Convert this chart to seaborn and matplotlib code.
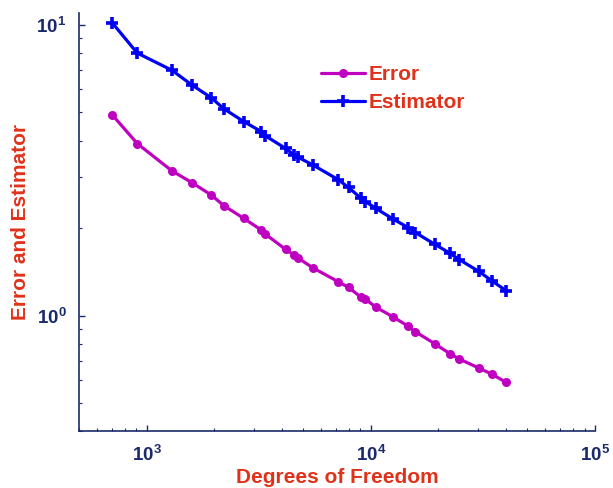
import numpy as np
import pandas as pd
import matplotlib
matplotlib.use('Agg')
import matplotlib.pyplot as plt
from matplotlib.ticker import LogLocator, FuncFormatter, NullFormatter
import seaborn as sns

# dados
dof = [703, 909, 1297, 1593, 1944, 2213, 2718, 3251, 3381, 4174, 4529, 4732,
       5520, 7145, 7960, 9020, 9467, 10527, 12577, 14675, 15832, 19313,
       22530, 24786, 30340, 34580, 40060]
error = [4.91, 3.91, 3.15, 2.87, 2.60, 2.39, 2.16, 1.97, 1.91, 1.69, 1.62, 1.58,
         1.46, 1.31, 1.25, 1.16, 1.14, 1.07, 0.99, 0.92, 0.88, 0.80,
         0.74, 0.71, 0.66, 0.63, 0.59]
estimator = [10.18, 8.01, 6.99, 6.22, 5.62, 5.15, 4.65, 4.30, 4.16, 3.76, 3.58, 3.51,
             3.30, 2.94, 2.76, 2.54, 2.47, 2.34, 2.15, 2.01, 1.93, 1.76,
             1.64, 1.56, 1.42, 1.32, 1.22]

navy = '#1b2a6b'
red = '#e0321a'
magenta = '#c000c0'
blue = '#0000f5'

sns.set_style('white')
plt.rcParams['font.family'] = ['Liberation Sans', 'DejaVu Sans']
plt.rcParams['mathtext.fontset'] = 'custom'
plt.rcParams['mathtext.bf'] = 'Liberation Sans:bold'
plt.rcParams['mathtext.rm'] = 'Liberation Sans:bold'

df = pd.DataFrame({'dof': dof, 'Error': error, 'Estimator': estimator})

fig = plt.figure(figsize=(6.13, 4.88), dpi=100)
ax = fig.add_axes([0.1289, 0.1162, 0.8417, 0.8572])

sns.lineplot(data=df, x='dof', y='Error', ax=ax, color=magenta, linewidth=2.3,
             marker='o', markersize=6.5, markeredgewidth=0, label='Error')
sns.lineplot(data=df, x='dof', y='Estimator', ax=ax, color=blue, linewidth=2.3,
             marker='+', markersize=8, markeredgewidth=2.6,
             markeredgecolor=blue, label='Estimator')

ax.set_xscale('log')
ax.set_yscale('log')
ax.set_xlim(500, 1e5)
ax.set_ylim(0.4, 11)

fmt = FuncFormatter(lambda v, pos: r'$\mathbf{10^{%d}}$' % int(round(np.log10(v))))
ax.xaxis.set_major_locator(LogLocator(base=10))
ax.yaxis.set_major_locator(LogLocator(base=10))
ax.xaxis.set_major_formatter(fmt)
ax.yaxis.set_major_formatter(fmt)
ax.xaxis.set_minor_formatter(NullFormatter())
ax.yaxis.set_minor_formatter(NullFormatter())
ax.xaxis.set_minor_locator(LogLocator(base=10, subs=np.arange(2, 10)))
ax.yaxis.set_minor_locator(LogLocator(base=10, subs=np.arange(2, 10)))

ax.tick_params(which='both', bottom=True, left=True, top=False, right=False)
ax.tick_params(which='major', direction='in', length=4.5, width=1, color=navy,
               labelcolor=navy, labelsize=13.5, pad=10)
ax.tick_params(which='minor', direction='in', length=2.2, width=0.8, color=navy)
ax.tick_params(axis='y', pad=9)

for s in ['top', 'right']:
    ax.spines[s].set_visible(False)
for s in ['left', 'bottom']:
    ax.spines[s].set_color(navy)
    ax.spines[s].set_linewidth(1.2)

ax.set_xlabel('Degrees of Freedom', color=red, fontsize=15, fontweight='bold', labelpad=2)
ax.set_ylabel('Error and Estimator', color=red, fontsize=15, fontweight='bold', labelpad=5)

leg = ax.legend(loc='upper left', bbox_to_anchor=(0.469, 0.875), frameon=False,
                fontsize=15, handlelength=2.1, handletextpad=0.2,
                labelspacing=0.42, borderpad=0, borderaxespad=0)
for t in leg.get_texts():
    t.set_color(red)
    t.set_fontweight('bold')

fig.savefig('out.png', dpi=100)
